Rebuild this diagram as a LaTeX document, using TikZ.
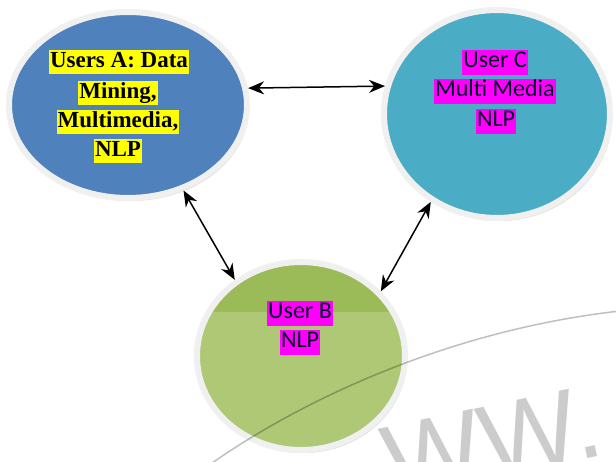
\documentclass[tikz,border=0pt]{standalone}
\usepackage{fontspec}
\setmainfont{Liberation Serif}
\newfontfamily\carl{Carlito}
\newfontfamily\wmfont{Liberation Sans}
\usetikzlibrary{shapes.geometric,arrows.meta,shadows}
\definecolor{cA}{RGB}{79,129,189}
\definecolor{cC}{RGB}{75,172,198}
\definecolor{cBtop}{RGB}{155,187,89}
\definecolor{cB}{RGB}{174,200,118}
\definecolor{ringc}{RGB}{240,240,240}
\definecolor{hlmag}{RGB}{255,0,255}
\definecolor{hlyel}{RGB}{255,255,0}
\begin{document}
\begin{tikzpicture}[x=1pt,y=-1pt,
  userell/.style={ellipse, draw=ringc, line width=6pt, inner sep=0pt,
    drop shadow={shadow xshift=2pt,shadow yshift=-3pt,fill=black!30}},
  hlA/.style={fill=hlyel, font=\fontsize{23}{23}\selectfont\bfseries,
    inner xsep=1pt, inner ysep=1.5pt, text height=16pt, text depth=5pt},
  hlM/.style={fill=hlmag, font=\carl\fontsize{24}{24}\selectfont, text=black!85!blue,
    inner xsep=1pt, inner ysep=2pt, text height=16pt, text depth=5pt},
  link/.style={{Stealth[length=16pt,width=13pt]}-{Stealth[length=16pt,width=13pt]}, line width=1.5pt}]
\useasboundingbox (0,0) rectangle (616,461);
\fill[white] (0,0) rectangle (616,461);
\begin{scope}
\clip (0,0) rectangle (616,461);
\node[text=black!20, font=\wmfont\fontsize{104}{104}\selectfont, rotate=12, anchor=base west,
  inner sep=0pt] (wm) at (392,500) {WW.};
\end{scope}
% ellipses
\node[userell, fill=cA, minimum width=238pt, minimum height=186pt] (A) at (128,105) {};
\node[userell, fill=cC, minimum width=226pt, minimum height=208pt] (C) at (497,114) {};
\node[userell, fill=cB, minimum width=208pt, minimum height=188pt,
  path picture={\fill[cBtop] ([yshift=60pt]path picture bounding box.north west)
     rectangle ([yshift=44pt]path picture bounding box.east);}] (B) at (301,356) {};
% watermark arc
\begin{scope}
\clip (0,0) rectangle (616,461);
\coordinate (w1) at (205,468);
\coordinate (w2) at (620,311);
\draw[black, opacity=0.25, line width=1.5pt] (w1) .. controls (300,400) and (450,330) .. (w2);
\end{scope}
% texts
\node[hlA] (a1) at (119,62) {Users A: Data};
\node[hlA] (a2) at (118,93) {Mining,};
\node[hlA] (a3) at (118,122) {Multimedia,};
\node[hlA] (a4) at (118,151) {NLP};
\node[hlM] (c1) at (495,62) {User C};
\node[hlM] (c2) at (495,91) {Multi Media};
\node[hlM] (c3) at (496,121) {NLP};
\node[hlM] (b1) at (300,313) {User B};
\node[hlM] (b2) at (300,342) {NLP};
% connectors
\draw[link] (A.8) -- (C.166);
\draw[link] (A.-57) -- (B.131);
\draw[link] (C.-127) -- (B.39);
\end{tikzpicture}
\end{document}
